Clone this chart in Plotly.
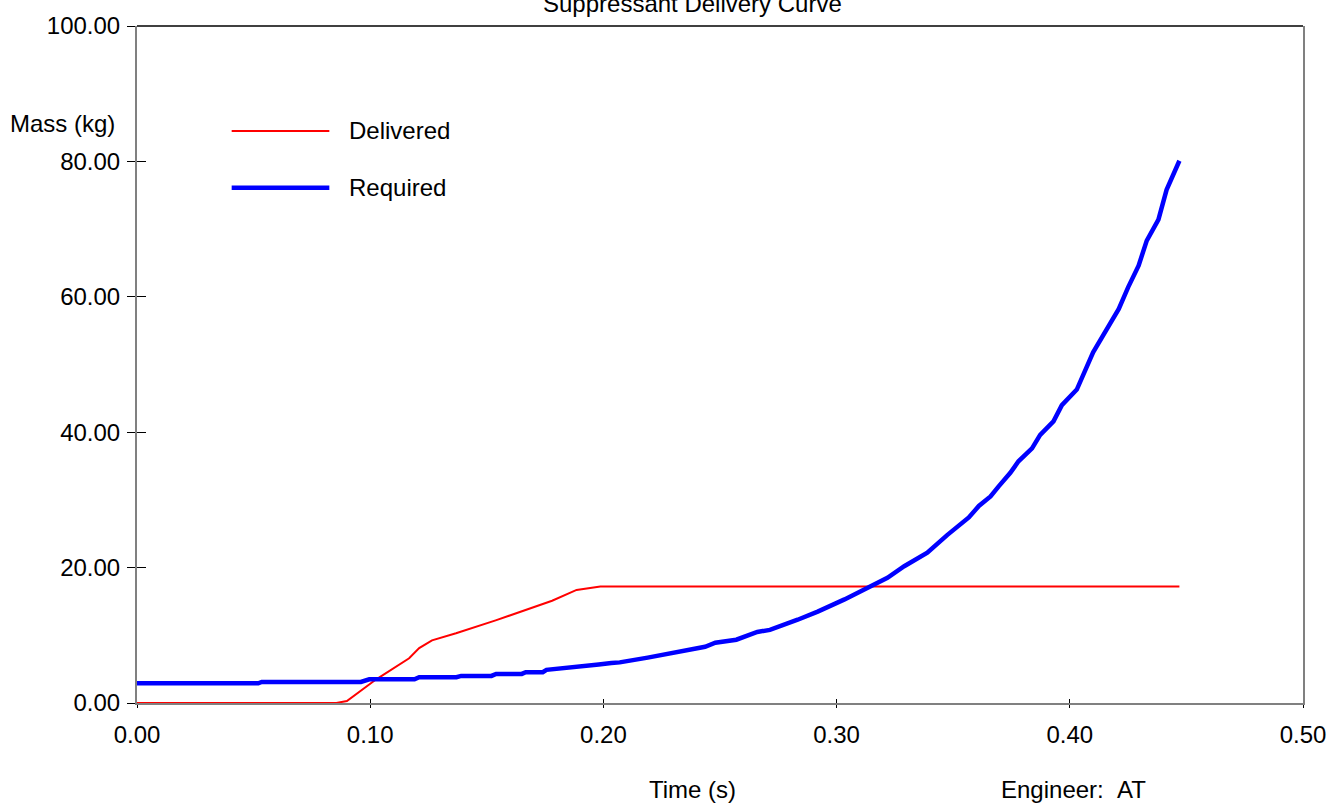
import plotly.graph_objects as go

# ---- data ----
delivered_t = [0, 0.0855, 0.090, 0.0946, 0.1026, 0.1167, 0.121, 0.1265, 0.1368,
               0.1538, 0.1694, 0.178, 0.1885, 0.1987, 0.447]
delivered_m = [0, 0, 0.3, 1.5, 3.5, 6.6, 8.1, 9.25, 10.3,
               12.2, 14.1, 15.1, 16.7, 17.2, 17.2]

required_t = [0, 0.052, 0.0535, 0.096, 0.0996, 0.119, 0.121, 0.137, 0.139, 0.152,
              0.154, 0.165, 0.1667, 0.174, 0.1756, 0.189, 0.198, 0.2034, 0.207,
              0.219, 0.2436, 0.248, 0.257, 0.266, 0.2714, 0.2833, 0.2919, 0.3034,
              0.314, 0.3218, 0.329, 0.3389, 0.3474, 0.3567, 0.361, 0.366, 0.3695,
              0.3745, 0.378, 0.3838, 0.3873, 0.393, 0.3966, 0.403, 0.410, 0.417,
              0.421, 0.425, 0.4295, 0.433, 0.438, 0.4415, 0.447]
required_m = [2.9, 2.9, 3.1, 3.1, 3.5, 3.5, 3.8, 3.8, 4.0, 4.0,
              4.3, 4.3, 4.55, 4.55, 4.9, 5.3, 5.7, 5.9, 6.0,
              6.7, 8.3, 8.9, 9.35, 10.5, 10.8, 12.3, 13.5, 15.3,
              17.2, 18.5, 20.2, 22.2, 24.8, 27.4, 29.1, 30.5, 32.0,
              34.0, 35.7, 37.6, 39.6, 41.6, 44.0, 46.3, 51.8, 55.8,
              58.2, 61.4, 64.6, 68.3, 71.4, 75.8, 80.1]

x_ticks = [0.0, 0.1, 0.2, 0.3, 0.4, 0.5]
y_ticks = [0, 20, 40, 60, 80, 100]
series_names = ["Delivered", "Required"]
title_text = "Suppressant Delivery Curve"
x_label = "Time (s)"
y_label = "Mass (kg)"
footer = "Engineer:\u00a0\u00a0AT"

FONT = "Liberation Sans, Arial, sans-serif"
FS = 24

fig = go.Figure()
fig.add_trace(go.Scatter(x=delivered_t, y=delivered_m, mode="lines",
                         line=dict(color="#ff0000", width=2), name=series_names[0],
                         showlegend=False))
fig.add_trace(go.Scatter(x=required_t, y=required_m, mode="lines",
                         line=dict(color="#0000ff", width=4.5), name=series_names[1],
                         showlegend=False))
# invisible trace to host secondary axes (inside tick halves)
fig.add_trace(go.Scatter(x=[None], y=[None], xaxis="x2", yaxis="y2",
                         showlegend=False, hoverinfo="skip"))

fig.update_layout(
    width=1338, height=804,
    margin=dict(l=137, r=31, t=21, b=101),
    paper_bgcolor="white", plot_bgcolor="white",
    font=dict(family=FONT, size=FS, color="black"),
    xaxis=dict(range=[0, 0.5], tickvals=x_ticks, tickformat=".2f",
               showline=True, linecolor="#808080", linewidth=2,
               ticks="outside", ticklen=3, tickcolor="black", tickwidth=1,
               showgrid=False, zeroline=False, ticklabelstandoff=6,
               tickfont=dict(family=FONT, size=FS)),
    yaxis=dict(range=[0, 100], tickvals=y_ticks, tickformat=".2f",
               showline=True, linecolor="#808080", linewidth=2, mirror=True,
               ticks="outside", ticklen=8, tickcolor="black", tickwidth=1,
               showgrid=False, zeroline=False, ticklabelstandoff=2,
               tickfont=dict(family=FONT, size=FS)),
    xaxis2=dict(range=[0, 0.5], tickvals=x_ticks, overlaying="x", anchor="y2",
                side="bottom", ticks="inside", ticklen=4, tickcolor="black",
                showticklabels=False, showline=False, showgrid=False, zeroline=False),
    yaxis2=dict(range=[0, 100], tickvals=y_ticks, overlaying="y", anchor="x2",
                side="left", ticks="inside", ticklen=9, tickcolor="black",
                showticklabels=False, showline=False, showgrid=False, zeroline=False),
)

# top frame line (black)
fig.add_shape(type="line", xref="paper", yref="paper", x0=0, x1=1, y0=1, y1=1,
              line=dict(color="black", width=1.5))

# custom legend
leg_x0, leg_x1 = (232 - 137) / 1170, (330 - 137) / 1170
leg_y = [(703 - 126.7) / 682, (703 - 184) / 682]
leg_colors = ["#ff0000", "#0000ff"]
leg_widths = [2, 4.5]
for name, yy, c, w in zip(series_names, leg_y, leg_colors, leg_widths):
    fig.add_shape(type="line", xref="paper", yref="paper", x0=leg_x0, x1=leg_x1,
                  y0=yy, y1=yy, line=dict(color=c, width=w))
    fig.add_annotation(text=name, xref="paper", yref="paper", x=(348 - 137) / 1170,
                       y=yy, xanchor="left", yanchor="middle", showarrow=False,
                       font=dict(family=FONT, size=FS, color="black"))

# title (partially cut at top, as in the reference)
fig.add_annotation(text=title_text, xref="paper", yref="paper", x=0.476, y=1,
                   xanchor="center", yanchor="bottom", yshift=7, showarrow=False,
                   font=dict(family=FONT, size=FS, color="black"))
# y label
fig.add_annotation(text=y_label, xref="paper", yref="paper", x=(117 - 137) / 1170,
                   y=(703 - 119) / 682, xanchor="right", yanchor="middle",
                   showarrow=False, font=dict(family=FONT, size=FS, color="black"))
# x label
fig.add_annotation(text=x_label, xref="paper", yref="paper", x=0.476,
                   y=(703 - 790) / 682, xanchor="center", yanchor="middle",
                   showarrow=False, font=dict(family=FONT, size=FS, color="black"))
# footer
fig.add_annotation(text=footer, xref="paper", yref="paper", x=(1002 - 137) / 1170,
                   y=(703 - 790) / 682, xanchor="left", yanchor="middle",
                   showarrow=False, font=dict(family=FONT, size=FS, color="black"))

fig.write_html("out.html",
               config={"displayModeBar": False},
               post_script="document.body.style.margin='0px';"
                           "document.body.style.overflow='hidden';")
